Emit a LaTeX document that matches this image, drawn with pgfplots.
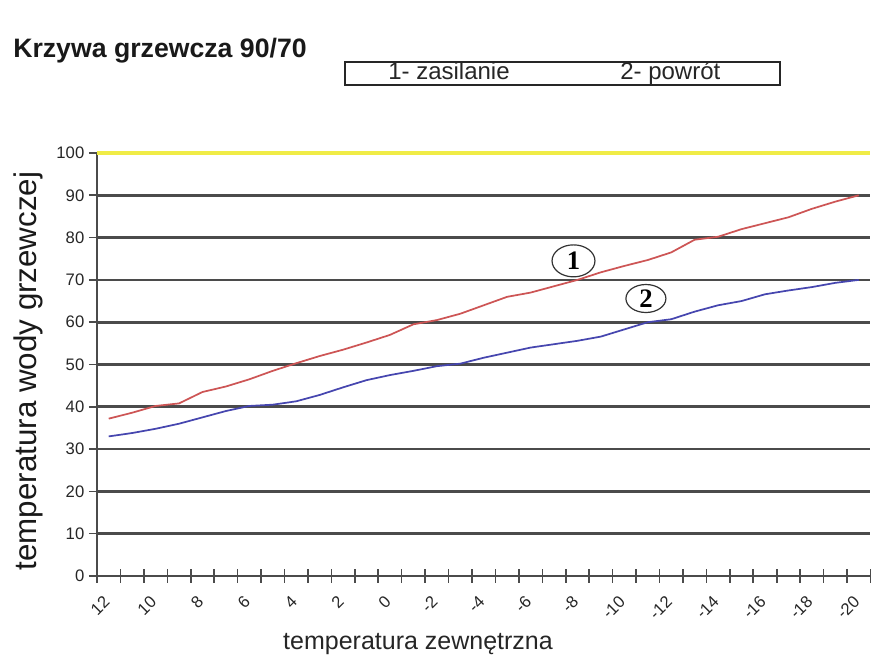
\documentclass[border=0pt]{standalone}
\usepackage{fontspec}
\setmainfont{Liberation Sans}
\newfontfamily\timesf{Liberation Serif}
\usepackage{pgfplots}
\pgfplotsset{compat=1.18}
\definecolor{redline}{RGB}{205,85,85}
\definecolor{blueline}{RGB}{70,70,175}
\definecolor{gridc}{RGB}{75,75,75}
\definecolor{yellowc}{RGB}{240,236,70}
\pgfplotstableread{
i red blue
0 37.2 33.0
1 38.6 33.8
2 40.2 34.8
3 40.8 36.0
4 43.5 37.5
5 44.8 39.0
6 46.5 40.2
7 48.5 40.5
8 50.3 41.3
9 52.0 42.8
10 53.5 44.6
11 55.2 46.3
12 57.0 47.5
13 59.5 48.5
14 60.5 49.6
15 62.0 50.2
16 64.0 51.6
17 66.0 52.8
18 67.0 54.0
19 68.5 54.8
20 70.0 55.6
21 71.8 56.6
22 73.3 58.3
23 74.7 60.0
24 76.5 60.7
25 79.5 62.5
26 80.2 64.0
27 82.0 65.0
28 83.4 66.6
29 84.8 67.5
30 86.8 68.3
31 88.5 69.3
32 90.0 70.0
}\datatable
\begin{document}
\begin{tikzpicture}
\useasboundingbox (-72.75pt,-60.75pt) rectangle (581.25pt,432pt);
\begin{axis}[
  at={(0pt,0pt)}, anchor=south west,
  scale only axis, width=580.1pt, height=317.25pt,
  xmin=-0.5, xmax=32.5, ymin=0, ymax=100,
  axis x line*=bottom, axis y line*=left,
  axis line style={gridc, line width=1.5pt},
  xtick={0,2,...,32},
  xticklabels={12,10,8,6,4,2,0,-2,-4,-6,-8,-10,-12,-14,-16,-18,-20},
  major x tick style={draw=none},
  minor xtick={-0.5,0.5,...,32.5},
  minor x tick style={gridc, line width=1.2pt},
  minor tick length=10pt,
  xtick align=center,
  ytick={0,10,...,100},
  ytick align=outside,
  major tick length=6pt,
  major y tick style={gridc, line width=1.2pt},
  ymajorgrids=true,
  major y grid style={gridc, line width=2pt},
  tick label style={font=\fontsize{12.5}{14}\selectfont, text=black!85},
  /pgf/number format/assume math mode=true,
  xticklabel style={yshift=-14pt, xshift=-1.5pt, rotate=45, anchor=east, inner sep=0pt},
  clip=false,
]
\addplot[redline, line width=1.3pt] table[x=i, y=red] {\datatable};
\addplot[blueline, line width=1.3pt] table[x=i, y=blue] {\datatable};
\draw[yellowc, line width=2.4pt] (axis cs:-0.5,100) -- (axis cs:32.5,100);
\draw[black!80, line width=0.9pt] (axis cs:19.83,74.5) ellipse [x radius=16.1pt, y radius=12pt];
\node[font=\timesf\bfseries\fontsize{20}{22}\selectfont] at (axis cs:19.83,74.5) {1};
\draw[black!80, line width=0.9pt] (axis cs:22.92,65.6) ellipse [x radius=15pt, y radius=10.5pt];
\node[font=\timesf\bfseries\fontsize{20}{22}\selectfont] at (axis cs:22.92,65.6) {2};
\end{axis}
% title
\node[anchor=base west, inner sep=0pt, font=\bfseries\fontsize{20}{22}\selectfont, text=black!90] at (-63pt,388.5pt) {Krzywa grzewcza 90/70};
% legend box
\draw[black!85, line width=1.3pt] (186pt,368.25pt) rectangle (512.25pt,385.5pt);
\node[anchor=base west, inner sep=0pt, font=\fontsize{18}{20}\selectfont, text=black!85] at (218.25pt,372pt) {1- zasilanie};
\node[anchor=base west, inner sep=0pt, font=\fontsize{18}{20}\selectfont, text=black!85] at (392.25pt,372pt) {2- powrót};
% axis labels
\node[anchor=base, inner sep=0pt, font=\fontsize{18.75}{20}\selectfont, text=black!85] at (240.75pt,-55.5pt) {temperatura zewnętrzna};
\node[anchor=base, rotate=90, inner sep=0pt, font=\fontsize{23.5}{26}\selectfont, text=black!90] at (-45pt,153.75pt) {temperatura wody grzewczej};
\end{tikzpicture}
\end{document}
